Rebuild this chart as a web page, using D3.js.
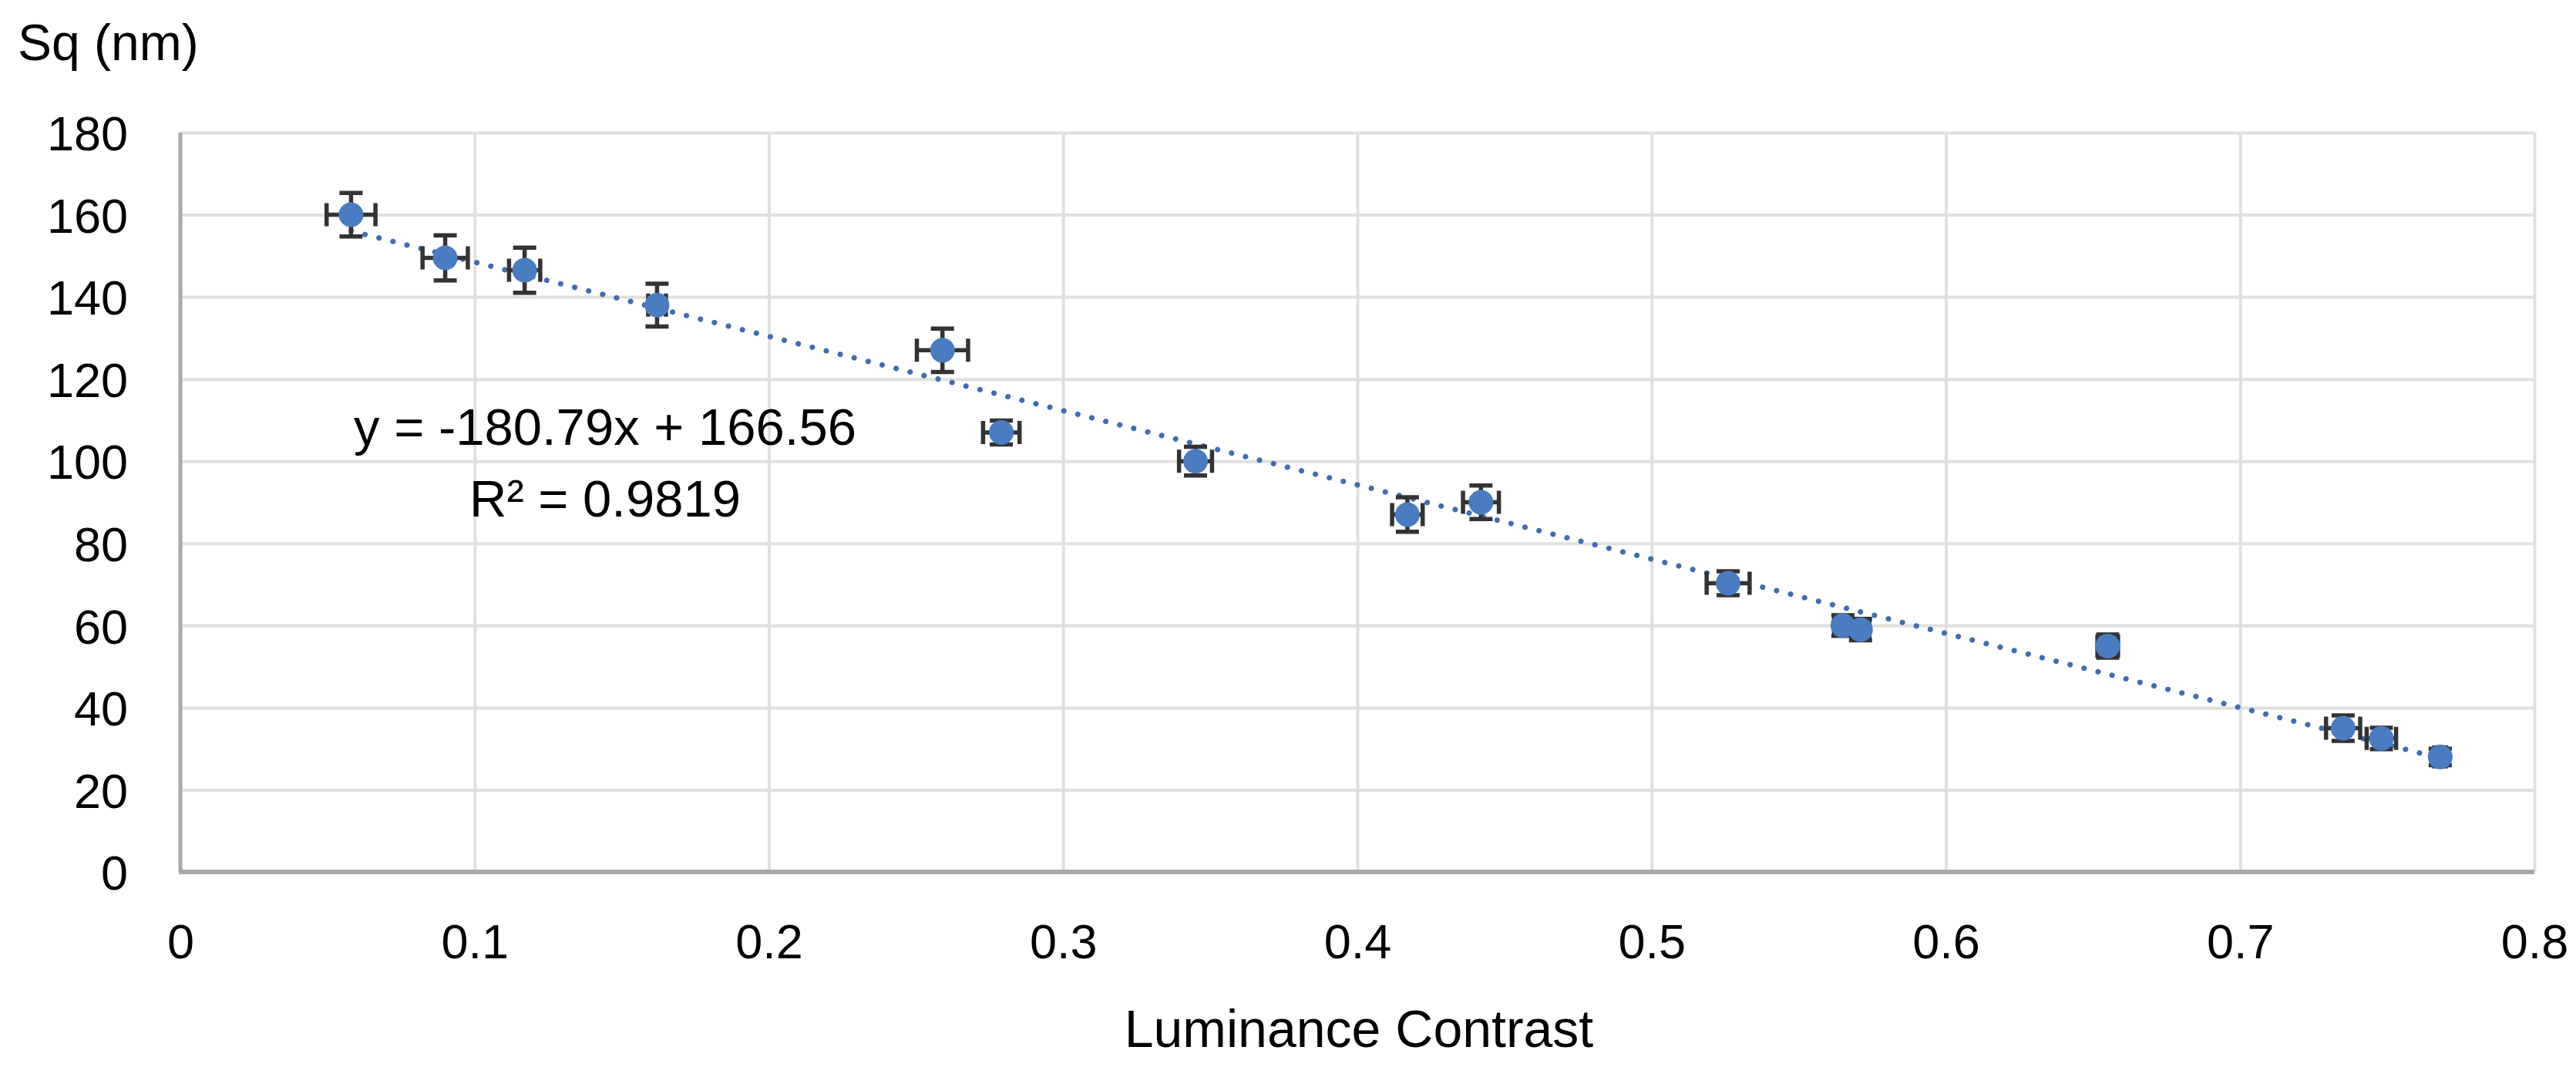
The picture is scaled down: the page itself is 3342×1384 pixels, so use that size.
<!DOCTYPE html>
<html>
<head>
<meta charset="utf-8">
<script src="https://cdn.jsdelivr.net/npm/d3@7"></script>
<style>
  body { margin: 0; background: #fff; }
  text { font-family: "Liberation Sans", Arial, sans-serif; fill: #000; }
</style>
</head>
<body>
<svg id="chart" width="3342" height="1384"></svg>
<script>
// values
var lum    = [0.058, 0.090, 0.117, 0.162, 0.259, 0.279, 0.345, 0.417, 0.442, 0.526, 0.565, 0.571, 0.655, 0.735, 0.748, 0.768];
var sq     = [160, 149.5, 146.5, 138, 127, 107, 100, 87, 90, 70.3, 60, 59, 55, 35, 32.5, 28];
var sqErr  = [5.3, 5.5, 5.5, 5.2, 5.3, 2.9, 3.5, 4.2, 4.1, 2.9, 2.5, 2.6, 2.8, 3.1, 2.6, 2];
var lumErr = [0.0083, 0.0077, 0.0053, 0.003, 0.0087, 0.0062, 0.0056, 0.0052, 0.0061, 0.0073, 0.003, 0.003, 0.0035, 0.0058, 0.005, 0.002];

var xTicks = [0, 0.1, 0.2, 0.3, 0.4, 0.5, 0.6, 0.7, 0.8];
var yTicks = [0, 20, 40, 60, 80, 100, 120, 140, 160, 180];

var slope = -180.79, intercept = 166.56;
var eqLines = ["y = -180.79x + 166.56", "R² = 0.9819"];

var palette = {
  marker: "#4a7cc2",
  trend: "#3f6db5",
  err: "#333333",
  grid: "#e1e0dc",
  axis: "#a9a9a9"
};

var svg = d3.select("#chart");
// plot box (named so as not to clash with window.top)
var pL = 234, pR = 3288, pT = 172, pB = 1131;

var x = d3.scaleLinear().domain([0, 0.8]).range([pL, pR]);
var y = d3.scaleLinear().domain([0, 180]).range([pB, pT]);

var data = lum.map(function(v, i) {
  return { x: v, y: sq[i], ex: lumErr[i], ey: sqErr[i] };
});

// gridlines
svg.append("g")
   .attr("transform", "translate(0," + pB + ")")
   .call(d3.axisBottom(x).tickValues(xTicks).tickSize(-(pB - pT)).tickFormat(""))
   .call(function(g) { g.select(".domain").remove(); })
   .selectAll("line")
   .attr("stroke", palette.grid)
   .attr("stroke-width", 4);

svg.append("g")
   .attr("transform", "translate(" + pL + ",0)")
   .call(d3.axisLeft(y).tickValues(yTicks).tickSize(-(pR - pL)).tickFormat(""))
   .call(function(g) { g.select(".domain").remove(); })
   .selectAll("line")
   .attr("stroke", palette.grid)
   .attr("stroke-width", 4);

// axis lines
svg.append("line")
   .attr("x1", pL).attr("x2", pL)
   .attr("y1", pT).attr("y2", pB)
   .attr("stroke", palette.axis)
   .attr("stroke-width", 5);

svg.append("line")
   .attr("x1", pL - 2).attr("x2", pR)
   .attr("y1", pB).attr("y2", pB)
   .attr("stroke", palette.axis)
   .attr("stroke-width", 6);

// tick labels
svg.append("g")
   .attr("transform", "translate(0," + pB + ")")
   .call(d3.axisBottom(x).tickValues(xTicks).tickSize(0).tickPadding(0).tickFormat(d3.format("")))
   .call(function(g) { g.select(".domain").remove(); })
   .selectAll("text")
   .attr("y", 112)
   .attr("dy", 0)
   .attr("font-size", "63px")
   .attr("font-family", "Liberation Sans, Arial, sans-serif")
   .attr("fill", "#000");

svg.append("g")
   .attr("transform", "translate(166,0)")
   .call(d3.axisLeft(y).tickValues(yTicks).tickSize(0).tickPadding(0))
   .call(function(g) { g.select(".domain").remove(); })
   .selectAll("text")
   .attr("x", 0)
   .attr("dy", "0.36em")
   .attr("font-size", "63px")
   .attr("font-family", "Liberation Sans, Arial, sans-serif")
   .attr("fill", "#000");

// axis titles
svg.append("text")
   .attr("x", 23)
   .attr("y", 78)
   .attr("font-size", "66px")
   .text("Sq (nm)");

svg.append("text")
   .attr("x", 1763)
   .attr("y", 1358)
   .attr("font-size", "68px")
   .attr("text-anchor", "middle")
   .text("Luminance Contrast");

// trendline across the data range
var ext = d3.extent(lum);
var line = d3.line()
   .x(function(d) { return x(d); })
   .y(function(d) { return y(slope * d + intercept); });

svg.append("path")
   .datum(ext)
   .attr("d", line)
   .attr("fill", "none")
   .attr("stroke", palette.trend)
   .attr("stroke-width", 7)
   .attr("stroke-linecap", "round")
   .attr("stroke-dasharray", "0.1 18.6");

// error bars
var bars = svg.append("g")
   .attr("stroke", palette.err)
   .attr("stroke-width", 5.5);
var cap = 15;

bars.selectAll(".ey")
   .data(data).enter()
   .append("path")
   .attr("class", "ey")
   .attr("fill", "none")
   .attr("d", function(d) {
     var cx = x(d.x), y0 = y(d.y - d.ey), y1 = y(d.y + d.ey);
     return "M" + cx + "," + y0 + "V" + y1 +
            "M" + (cx - cap) + "," + y0 + "H" + (cx + cap) +
            "M" + (cx - cap) + "," + y1 + "H" + (cx + cap);
   });

bars.selectAll(".ex")
   .data(data).enter()
   .append("path")
   .attr("class", "ex")
   .attr("fill", "none")
   .attr("d", function(d) {
     var cy = y(d.y), x0 = x(d.x - d.ex), x1 = x(d.x + d.ex);
     return "M" + x0 + "," + cy + "H" + x1 +
            "M" + x0 + "," + (cy - cap) + "V" + (cy + cap) +
            "M" + x1 + "," + (cy - cap) + "V" + (cy + cap);
   });

// markers
svg.append("g")
   .selectAll("circle")
   .data(data).enter()
   .append("circle")
   .attr("cx", function(d) { return x(d.x); })
   .attr("cy", function(d) { return y(d.y); })
   .attr("r", 16)
   .attr("fill", palette.marker);

// equation label
svg.append("g")
   .selectAll("text")
   .data(eqLines).enter()
   .append("text")
   .attr("x", 785)
   .attr("y", function(d, i) { return 577 + i * 93; })
   .attr("font-size", "67px")
   .attr("text-anchor", "middle")
   .text(function(d) { return d; });
</script>
</body>
</html>
